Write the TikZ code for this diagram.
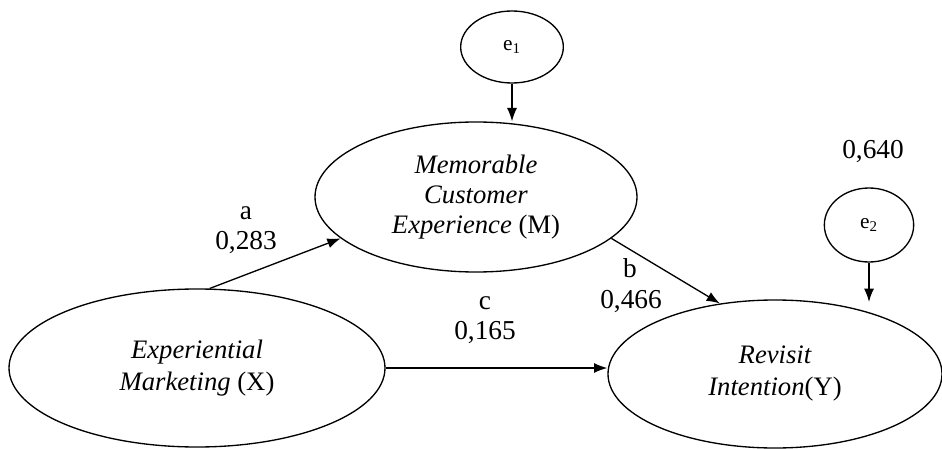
\documentclass[tikz,border=0pt]{standalone}
\usepackage{fontspec}
\setmainfont{Liberation Serif}
\usetikzlibrary{arrows.meta,shapes.geometric}

\begin{document}
\begin{tikzpicture}[
  x=0.75pt, y=-0.75pt,
  latent/.style={draw, ellipse, inner sep=0pt, align=center, line width=1pt, font=\fontsize{20}{22.5}\selectfont\itshape},
  err/.style={draw, ellipse, inner sep=0pt, line width=1pt, font=\fontsize{16}{18}\selectfont},
  lbl/.style={align=center, font=\fontsize{20.5}{22.5}\selectfont},
  arr/.style={-{Latex[length=10pt,width=7.5pt]}, line width=1pt}
]
\useasboundingbox (0,0) rectangle (942,449);

\node[latent, minimum width=241.5pt, minimum height=112.5pt] (M) at (476,197)
  {Memorable\\Customer\\Experience {\upshape(M)}};
\node[latent, minimum width=282pt, minimum height=118.5pt] (X) at (197,368)
  {Experiential\\[1.5pt]Marketing {\upshape(X)}};
\node[latent, minimum width=250.5pt, minimum height=111pt] (Y) at (775,374)
  {Revisit\\[1.5pt]Intention{\upshape(Y)}};
\node[err, minimum width=77pt, minimum height=54pt] (e1) at (512,47) {e\textsubscript{1}};
\node[err, minimum width=67pt, minimum height=55.5pt] (e2) at (869,225) {e\textsubscript{2}};

\node[lbl] (r2) at (873,152) {0,640};
\node[lbl] (la) at (246,230) {a\\0,283};
\node[lbl] (lc) at (485,320) {c\\0,165};
\node[lbl] (lb) at (630,268) {b};
\node[lbl] (lbv) at (631,302) {0,466};

\draw[arr] (e1.south) -- (e1.south |- M.north);
\draw[arr] (e2.south) -- ([yshift=-2pt]e2.south |- Y.north);
\draw[arr] (X.81) -- (M.197);
\draw[arr] (M.343) -- (Y.128);
\draw[arr] (X.east) -- (X.east -| Y.west);
\end{tikzpicture}
\end{document}
